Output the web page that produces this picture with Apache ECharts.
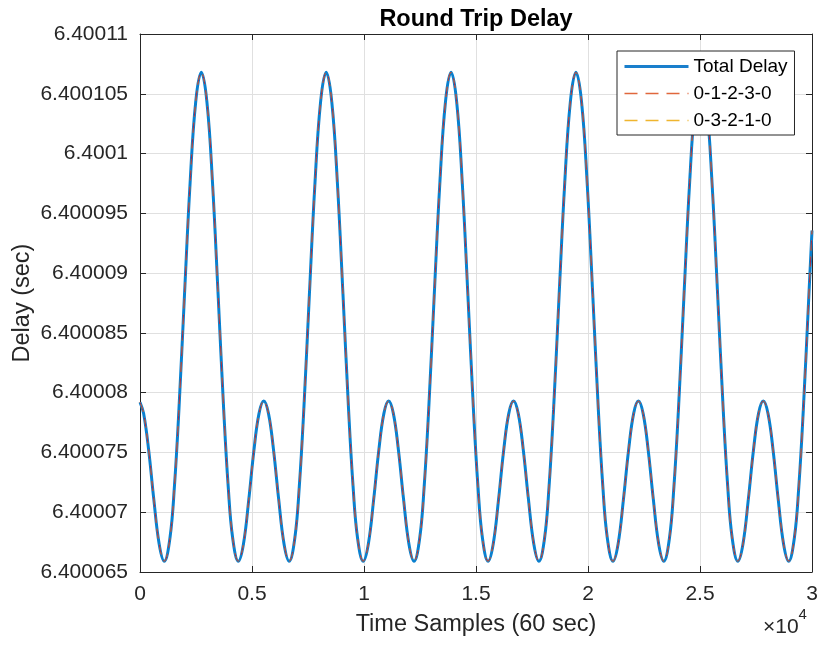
<!DOCTYPE html>
<html>
<head>
<meta charset="utf-8">
<title>Round Trip Delay</title>
<script src="https://cdn.jsdelivr.net/npm/echarts@6/dist/echarts.min.js"></script>
<style>
  html, body { margin: 0; padding: 0; background: #ffffff; }
  #chart { width: 819px; height: 649px; }
</style>
</head>
<body>
<div id="chart"></div>
<script>
// Sample index (one sample every 60 s) at which the delay was recorded
const sampleIndex = [
  0, 162, 387, 617, 857, 1085, 1337, 1537, 1737, 1987, 2237, 2487, 2737, 2987, 3237, 3487, 3737, 3937, 4137, 4389, 4617, 4857, 5087, 5312, 5525,
  5737, 5962, 6192, 6432, 6660, 6912, 7112, 7312, 7562, 7812, 8062, 8312, 8562, 8812, 9062, 9312, 9512, 9712, 9964, 10192, 10432, 10662, 10887, 11100,
  11312, 11537, 11767, 12007, 12235, 12487, 12687, 12887, 13137, 13387, 13637, 13887, 14137, 14387, 14637, 14887, 15087, 15287, 15539, 15767, 16007, 16237, 16462, 16675,
  16887, 17112, 17342, 17582, 17810, 18062, 18262, 18462, 18712, 18962, 19212, 19462, 19712, 19962, 20212, 20462, 20662, 20862, 21114, 21342, 21582, 21812, 22037, 22250,
  22462, 22687, 22917, 23157, 23385, 23637, 23837, 24037, 24287, 24537, 24787, 25037, 25287, 25537, 25787, 26037, 26237, 26437, 26689, 26917, 27157, 27387, 27612, 27825,
  28037, 28262, 28492, 28732, 28960, 29212, 29412, 29612, 29862, 30000
];

// Total round trip delay (seconds)
const totalDelay = [
  6.4000792, 6.40007825, 6.4000752, 6.40007107, 6.40006733, 6.4000659, 6.40006784, 6.40007216, 6.40007856, 6.40008821, 6.40009756, 6.40010433, 6.4001068, 6.40010433, 6.40009756, 6.40008821, 6.40007856, 6.40007216, 6.40006784, 6.4000659, 6.40006733, 6.40007107, 6.4000752, 6.40007825, 6.4000793,
  6.40007825, 6.4000752, 6.40007107, 6.40006733, 6.4000659, 6.40006784, 6.40007216, 6.40007856, 6.40008821, 6.40009756, 6.40010433, 6.4001068, 6.40010433, 6.40009756, 6.40008821, 6.40007856, 6.40007216, 6.40006784, 6.4000659, 6.40006733, 6.40007107, 6.4000752, 6.40007825, 6.4000793,
  6.40007825, 6.4000752, 6.40007107, 6.40006733, 6.4000659, 6.40006784, 6.40007216, 6.40007856, 6.40008821, 6.40009756, 6.40010433, 6.4001068, 6.40010433, 6.40009756, 6.40008821, 6.40007856, 6.40007216, 6.40006784, 6.4000659, 6.40006733, 6.40007107, 6.4000752, 6.40007825, 6.4000793,
  6.40007825, 6.4000752, 6.40007107, 6.40006733, 6.4000659, 6.40006784, 6.40007216, 6.40007856, 6.40008821, 6.40009756, 6.40010433, 6.4001068, 6.40010433, 6.40009756, 6.40008821, 6.40007856, 6.40007216, 6.40006784, 6.4000659, 6.40006733, 6.40007107, 6.4000752, 6.40007825, 6.4000793,
  6.40007825, 6.4000752, 6.40007107, 6.40006733, 6.4000659, 6.40006784, 6.40007216, 6.40007856, 6.40008821, 6.40009756, 6.40010433, 6.4001068, 6.40010433, 6.40009756, 6.40008821, 6.40007856, 6.40007216, 6.40006784, 6.4000659, 6.40006733, 6.40007107, 6.4000752, 6.40007825, 6.4000793,
  6.40007825, 6.4000752, 6.40007107, 6.40006733, 6.4000659, 6.40006784, 6.40007216, 6.40007856, 6.40008821, 6.40009356
];

// The two directional routes carry the same delay as the total, so their traces coincide
const route01230 = totalDelay;
const route03210 = totalDelay;

const seriesNames = ['Total Delay', '0-1-2-3-0', '0-3-2-1-0'];

// Axis ranges and tick spacing
const xMin = 0, xMax = 30000, xStep = 5000;
const yMin = 6.400065, yMax = 6.40011, yStep = 0.000005;

const FONT = "'Liberation Sans', Arial, Helvetica, sans-serif";
const INK = '#262626';
const GRID = '#e0e0e0';

function pairs(xs, ys) {
  return xs.map((x, i) => [x, ys[i]]);
}

const chart = echarts.init(document.getElementById('chart'), null, { renderer: 'canvas' });

const sharedTick = { show: true, inside: true, length: 6, lineStyle: { color: INK, width: 1 } };
const sharedLine = { show: true, onZero: false, lineStyle: { color: INK, width: 1 } };

chart.setOption({
  backgroundColor: '#ffffff',
  animation: false,
  title: {
    text: 'Round Trip Delay',
    left: 471,
    top: 3,
    textAlign: 'center',
    textStyle: { fontFamily: FONT, fontSize: 23.5, fontWeight: 'bold', color: '#000000' }
  },
  legend: {
    orient: 'vertical',
    left: 617,
    top: 51,
    z: 20,
    data: [
      { name: seriesNames[0], lineStyle: { color: '#1a7fcc', width: 3 } },
      { name: seriesNames[1], lineStyle: { color: '#e0673c', width: 1.5, type: [13, 8] } },
      { name: seriesNames[2], lineStyle: { color: '#efb52e', width: 1.5, type: [13, 8] } }
    ],
    backgroundColor: '#ffffff',
    borderColor: INK,
    borderWidth: 1,
    borderRadius: 0,
    padding: [6, 7, 5, 6],
    itemWidth: 64,
    itemHeight: 19,
    itemGap: 8,
    selectedMode: false,
    itemStyle: { opacity: 0 },
    textStyle: { fontFamily: FONT, fontSize: 19, color: '#000000' }
  },
  grid: {
    left: 140,
    right: 7,
    top: 34,
    bottom: 77,
    containLabel: false,
    outerBoundsMode: 'none'
  },
  xAxis: [
    {
      type: 'value',
      position: 'bottom',
      min: xMin, max: xMax, interval: xStep,
      name: 'Time Samples (60 sec)',
      nameLocation: 'middle',
      nameGap: 41,
      nameTextStyle: { fontFamily: FONT, fontSize: 23.5, color: INK },
      axisLine: sharedLine,
      axisTick: sharedTick,
      axisLabel: {
        margin: 12,
        fontFamily: FONT, fontSize: 21, color: INK,
        formatter: v => String(Number((v / 10000).toFixed(4)))
      },
      splitLine: { show: true, lineStyle: { color: GRID, width: 1 } }
    },
    {
      type: 'value',
      position: 'top',
      min: xMin, max: xMax, interval: xStep,
      axisLine: sharedLine,
      axisTick: sharedTick,
      axisLabel: { show: false },
      splitLine: { show: false }
    }
  ],
  yAxis: [
    {
      type: 'value',
      position: 'left',
      min: yMin, max: yMax, interval: yStep,
      name: 'Delay (sec)',
      nameLocation: 'middle',
      nameGap: 105,
      nameMoveOverlap: false,
      nameTextStyle: { fontFamily: FONT, fontSize: 23.5, color: INK },
      axisLine: sharedLine,
      axisTick: sharedTick,
      axisLabel: {
        margin: 12,
        fontFamily: FONT, fontSize: 21, color: INK,
        formatter: v => String(Number(v.toFixed(6)))
      },
      splitLine: { show: true, lineStyle: { color: GRID, width: 1 } }
    },
    {
      type: 'value',
      position: 'right',
      min: yMin, max: yMax, interval: yStep,
      axisLine: sharedLine,
      axisTick: sharedTick,
      axisLabel: { show: false },
      splitLine: { show: false }
    }
  ],
  series: [
    {
      name: seriesNames[0],
      type: 'line',
      z: 2,
      data: pairs(sampleIndex, totalDelay),
      symbol: 'none',
      smooth: 0.4,
      color: '#0072bd',
      lineStyle: { color: '#0a80cf', width: 3 }
    },
    {
      name: seriesNames[2],
      type: 'line',
      z: 3,
      data: pairs(sampleIndex, route03210),
      symbol: 'none',
      smooth: 0.4,
      color: '#edb120',
      lineStyle: { color: '#edb120', width: 1, type: [10, 6] }
    },
    {
      name: seriesNames[1],
      type: 'line',
      z: 4,
      data: pairs(sampleIndex, route01230),
      symbol: 'none',
      smooth: 0.4,
      color: '#d95319',
      lineStyle: { color: '#9a2b55', width: 1, type: [10, 6] }
    }
  ],
  graphic: [
    {
      type: 'text',
      left: 763,
      top: 607,
      style: {
        text: '{b|×10}{s|4}',
        rich: {
          b: { fontFamily: FONT, fontSize: 21, fill: INK, padding: [10, 0, 0, 0] },
          s: { fontFamily: FONT, fontSize: 15, fill: INK, verticalAlign: 'top', padding: [0, 0, 10, 0] }
        }
      }
    }
  ]
});
</script>
</body>
</html>
